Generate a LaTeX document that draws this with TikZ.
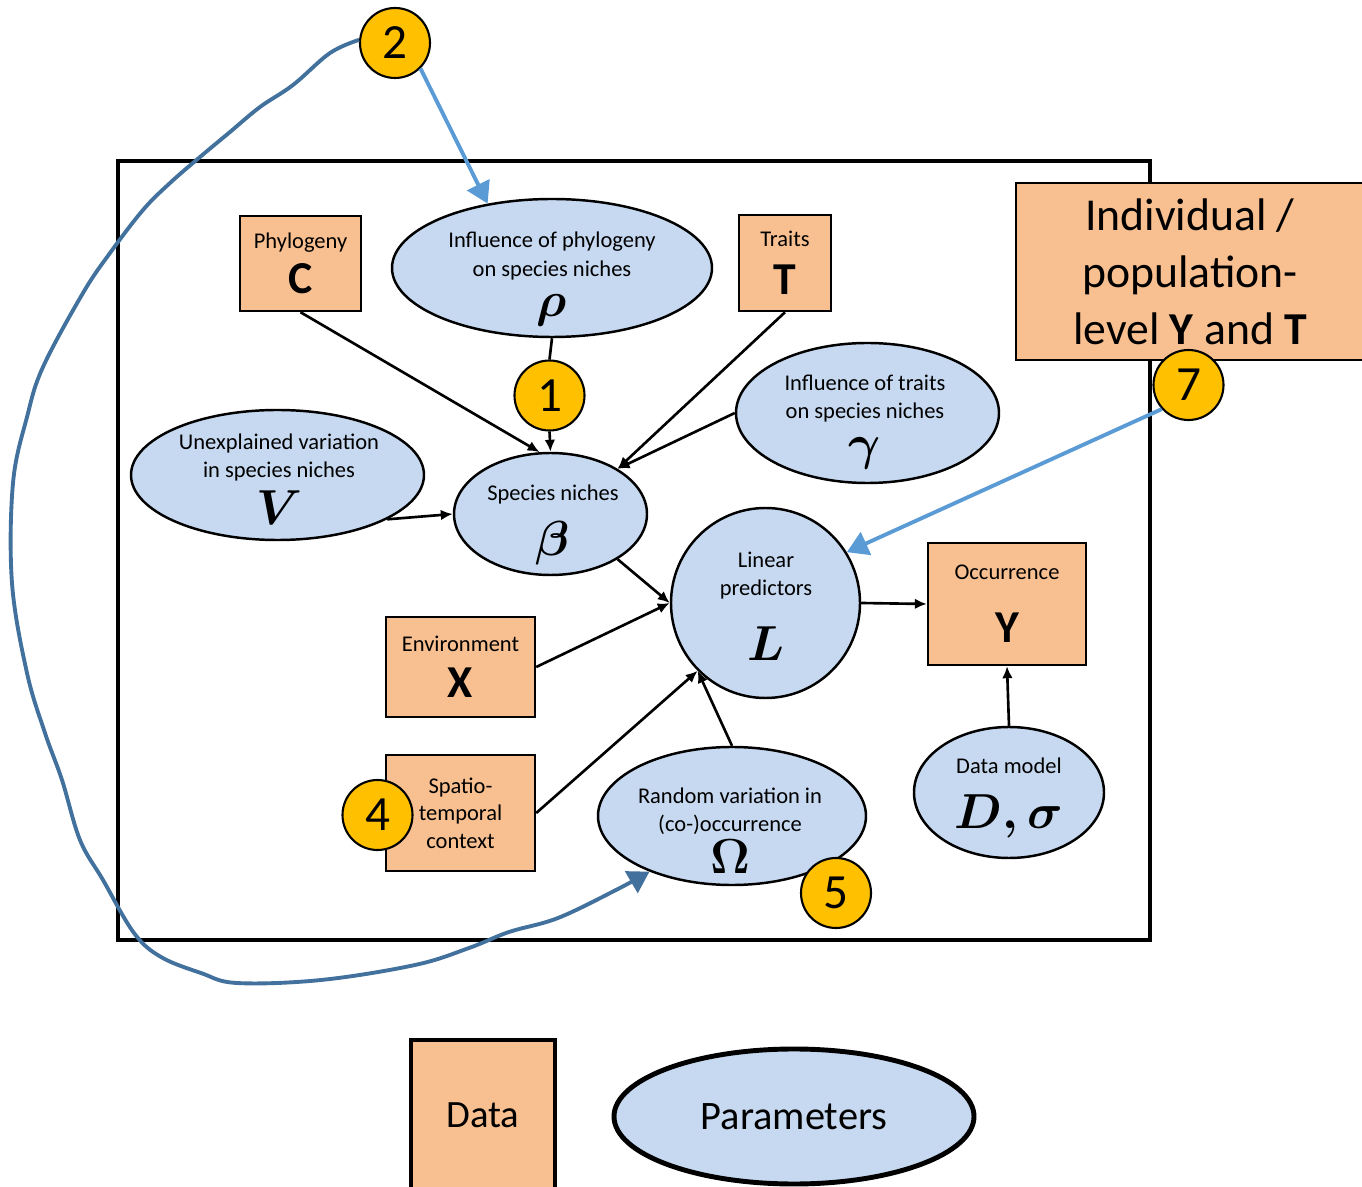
\RequirePackage{fix-cm}
\documentclass[tikz,border=0pt]{standalone}
\usepackage{amsmath}
\usepackage{fontspec}
\setmainfont{Carlito}
\usetikzlibrary{shapes.geometric,arrows.meta}
\definecolor{dataorange}{HTML}{F8C090}
\definecolor{parblue}{HTML}{C6D9F0}
\definecolor{badgeyellow}{HTML}{FFC000}
\definecolor{noteblue}{HTML}{5B9BD5}
\definecolor{loopblue}{HTML}{41719C}
\newcommand{\lbl}{\fontsize{6.4}{8}\selectfont\lineskiplimit=-100pt}
\newcommand{\mathsym}[1]{{\fontsize{14}{16}\selectfont$\boldsymbol{#1}$}}
\newcommand{\datasym}[1]{{\fontsize{13}{15}\selectfont\bfseries #1}}
\begin{document}
\begin{tikzpicture}[
        datanode/.style={draw, line width=0.7pt, fill=dataorange, inner sep=0pt, align=center, font=\lbl},
        paramnode/.style={ellipse, draw, line width=0.7pt, fill=parblue, inner sep=0pt},
        lbltext/.style={align=center, font=\lbl, inner sep=0pt},
        badge/.style={circle, draw, line width=0.6pt, fill=badgeyellow, minimum size=0.7cm, inner sep=0pt, font=\fontsize{14}{16}\selectfont},
        link/.style={-{Latex[length=3.4pt,width=3pt]}, line width=0.75pt},
        note/.style={-{Triangle[length=6pt,width=7pt]}, line width=1.1pt, noteblue}]
        \useasboundingbox (0,0) rectangle (13.62,-11.87);
        \draw[line width=1.3pt] (1.18,-1.61) rectangle (11.50,-9.40);

        \node[datanode, minimum width=1.21cm, minimum height=0.95cm] (C) at (3.005,-2.635) {Phylogeny\\[5pt]\datasym{C}};
        \node[paramnode, minimum width=3.2cm, minimum height=1.38cm] (rho) at (5.52,-2.68) {};
        \node[lbltext] (rhotxt) at (5.52,-2.79) {Influence of phylogeny\\on species niches\\[3.4pt]\mathsym{\rho}};
        \node[datanode, minimum width=0.92cm, minimum height=0.96cm] (T) at (7.85,-2.63) {Traits\\[5.7pt]\datasym{T}};
        \node[badge] (b1) at (5.495,-3.955) {1};
        \node[paramnode, minimum width=2.63cm, minimum height=1.40cm] (gamma) at (8.675,-4.13) {};
        \node[lbltext] (gammatxt) at (8.65,-4.22) {Influence of traits\\on species niches\\[3.4pt]\mathsym{\gamma}};
        \node[paramnode, minimum width=2.93cm, minimum height=1.30cm] (V) at (2.775,-4.75) {};
        \node[lbltext] (Vtxt) at (2.79,-4.795) {Unexplained variation\\in species niches\\[5.4pt]\mathsym{V}};
        \node[paramnode, minimum width=1.93cm, minimum height=1.22cm] (beta) at (5.505,-5.14) {};
        \node[lbltext] (betatxt) at (5.53,-5.25) {Species niches\\[7.6pt]\mathsym{\beta}};
        \node[paramnode, minimum width=1.89cm, minimum height=1.90cm] (L) at (7.655,-6.03) {};
        \node[lbltext] (Ltxt) at (7.66,-6.06) {Linear\\predictors\\[10.5pt]\mathsym{L}};
        \node[datanode, minimum width=1.58cm, minimum height=1.22cm] (Y) at (10.07,-6.04) {Occurrence\\[10pt]\datasym{Y}};
        \node[datanode, minimum width=1.49cm, minimum height=1.00cm] (X) at (4.605,-6.67) {Environment\\[5pt]\datasym{X}};
        \node[datanode, minimum width=1.49cm, minimum height=1.16cm, font=\fontsize{6.4}{7.8}\selectfont] (S) at (4.605,-8.13) {Spatio-\\temporal\\context};
        \node[badge] (b4) at (3.775,-8.15) {4};
        \node[paramnode, minimum width=2.68cm, minimum height=1.38cm] (om) at (7.32,-8.16) {};
        \node[lbltext] (omtxt) at (7.30,-8.31) {Random variation in\\(co-)occurrence\\[4pt]\mathsym{\Omega}};
        \node[badge] (b5) at (8.36,-8.93) {5};
        \node[paramnode, minimum width=1.90cm, minimum height=1.31cm] (dm) at (10.09,-7.925) {};
        \node[lbltext] (dmtxt) at (10.09,-7.98) {Data model\\[7.4pt]\mathsym{D,\sigma}};
        \node[datanode, minimum width=3.48cm, minimum height=1.77cm, font=\fontsize{13}{16.2}\selectfont] (ind) at (11.90,-2.715) {Individual /\\population-\\level \textbf{Y} and \textbf{T}};
        \node[badge] (b7) at (11.885,-3.85) {7};
        \node[badge] (b2) at (3.95,-0.43) {2};

        \node[datanode, line width=1.4pt, minimum width=1.44cm, minimum height=1.50cm, font=\fontsize{11}{13}\selectfont] (legdata) at (4.83,-11.15) {Data};
        \node[paramnode, line width=1.4pt, minimum width=3.60cm, minimum height=1.35cm, font=\fontsize{11.5}{13}\selectfont] (legparam) at (7.94,-11.165) {Parameters};

        \draw[line width=0.75pt] (rho.south) -- (b1.north);
        \draw[link] (b1.south) -- (beta.north);
        \draw[link] (C.south) -- (beta.100);
        \draw[link] (T.south) -- (beta.34);
        \draw[link] (gamma.west) -- (beta.34);
        \draw[link] (V.-22) -- (beta.west);
        \draw[link] (beta.-34) -- (L.west);
        \draw[link] (X.east) -- (L.west);
        \draw[link] (S.east) -- (L.225);
        \draw[link] (om.north) -- (L.225);
        \draw[link] (L.east) -- (Y.west);
        \draw[link] (dm.north) -- (Y.south);
        \draw[note] (b2.-45) -- (rho.135);
        \draw[note] (b7.222) -- (L.32);
        \draw[line width=1.1pt, loopblue, -{Triangle[length=6pt,width=7pt]}] plot[smooth, tension=0.6] coordinates {(b2.175) (3.30,-0.53) (2.93,-0.85) (2.60,-1.07) (2.30,-1.32) (2.00,-1.57) (1.70,-1.83) (1.43,-2.10) (1.10,-2.53) (0.83,-2.93) (0.43,-3.67) (0.27,-4.17) (0.13,-4.83) (0.12,-5.83) (0.27,-6.73) (0.45,-7.33) (0.62,-7.80) (0.80,-8.40) (1.03,-8.80) (1.34,-9.33) (1.61,-9.57) (2.01,-9.73) (2.37,-9.83) (3.21,-9.80) (4.15,-9.65) (4.69,-9.48) (5.09,-9.32) (5.58,-9.18) (6.16,-8.90) (om.214)};
\end{tikzpicture}
\end{document}
